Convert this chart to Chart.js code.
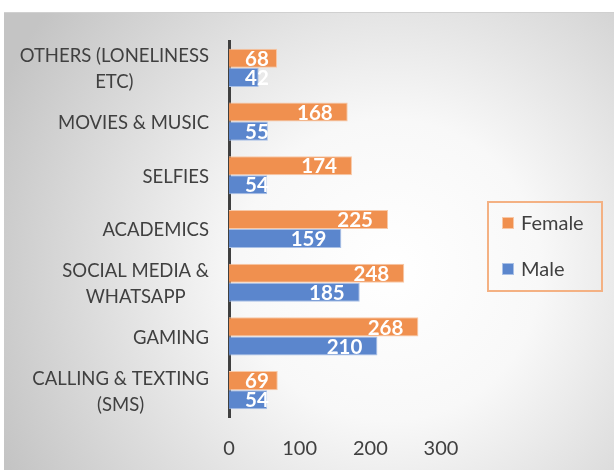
<!DOCTYPE html>
<html><head><meta charset="utf-8">
<script src="https://cdn.jsdelivr.net/npm/chart.js@4/dist/chart.umd.min.js"></script>
<style>html,body{margin:0;padding:0;background:#fff;}#wrap{width:614px;height:473px;position:relative;}</style>
</head><body><div id="wrap"><canvas id="c" width="614" height="473"></canvas></div>
<script>
const categories = [
  ["OTHERS (LONELINESS", "ETC)"],
  "MOVIES & MUSIC",
  "SELFIES",
  "ACADEMICS",
  ["SOCIAL MEDIA &", "WHATSAPP"],
  "GAMING",
  ["CALLING & TEXTING", "(SMS)"]
];
const femaleValues = [68, 168, 174, 225, 248, 268, 69];
const maleValues = [42, 55, 54, 159, 185, 210, 54];
const seriesNames = ["Female", "Male"];
const xTicks = [0, 100, 200, 300];

const FONT = "Lato, 'Open Sans', sans-serif";
const TXT = '#404040';

const bgPlugin = {
  id: 'bg',
  beforeDraw(chart) {
    const ctx = chart.ctx;
    ctx.save();
    ctx.fillStyle = '#ffffff';
    ctx.fillRect(0, 0, chart.width, chart.height);
    const g = ctx.createRadialGradient(390, 270, 0, 390, 270, 430);
    g.addColorStop(0, '#ffffff');
    g.addColorStop(0.35, '#f8f8f8');
    g.addColorStop(1, '#c4c4c4');
    ctx.fillStyle = g;
    ctx.fillRect(4, 12, chart.width - 4, chart.height - 15);
    ctx.strokeStyle = '#d0d0d0';
    ctx.lineWidth = 1;
    ctx.beginPath(); ctx.moveTo(4, 12.5); ctx.lineTo(chart.width, 12.5); ctx.stroke();
    ctx.restore();
  }
};

const catLabelPlugin = {
  id: 'catLabels',
  afterDraw(chart) {
    const ctx = chart.ctx;
    const ys = chart.scales.y;
    const rightEdge = ys.right - 20;
    const lh = 26;
    ctx.save();
    ctx.font = "18.5px " + FONT;
    ctx.fillStyle = TXT;
    ctx.textAlign = 'center';
    ctx.textBaseline = 'middle';
    chart.data.labels.forEach((lab, i) => {
      const lines = Array.isArray(lab) ? lab : [lab];
      const bw = Math.max(...lines.map(l => ctx.measureText(l).width));
      const cx = rightEdge - bw / 2;
      const cy = ys.getPixelForTick(i) + 1.5;
      const y0 = cy - (lines.length - 1) * lh / 2;
      lines.forEach((l, k) => ctx.fillText(l, cx, y0 + k * lh));
    });
    ctx.restore();
  }
};

const labelPlugin = {
  id: 'barLabels',
  afterDatasetsDraw(chart) {
    const ctx = chart.ctx;
    ctx.save();
    ctx.font = "bold 20.5px " + FONT;
    ctx.fillStyle = '#ffffff';
    ctx.textAlign = 'right';
    ctx.textBaseline = 'middle';
    chart.data.datasets.forEach((ds, di) => {
      const meta = chart.getDatasetMeta(di);
      meta.data.forEach((bar, i) => {
        const txt = String(ds.data[i]);
        const w = ctx.measureText(txt).width;
        const right = Math.max(bar.x - 15, bar.base + 16 + w);
        ctx.fillText(txt, right, bar.y + 1);
      });
    });
    ctx.restore();
  }
};

const legendPlugin = {
  id: 'customLegend',
  afterDraw(chart) {
    const ctx = chart.ctx;
    ctx.save();
    ctx.strokeStyle = '#F4B183';
    ctx.lineWidth = 2;
    ctx.strokeRect(488, 202, 114, 89);
    ctx.font = "20px " + FONT;
    ctx.textBaseline = 'middle';
    ctx.textAlign = 'left';
    const ys = [223, 269];
    chart.data.datasets.forEach((ds, i) => {
      ctx.fillStyle = ds.backgroundColor;
      ctx.fillRect(502, ys[i] - 6, 12, 12);
      ctx.strokeStyle = ds.borderColor;
      ctx.lineWidth = 1;
      ctx.strokeRect(502.5, ys[i] - 5.5, 11, 11);
      ctx.fillStyle = TXT;
      ctx.fillText(ds.label, 521, ys[i] + 1);
    });
    ctx.restore();
  }
};

new Chart(document.getElementById('c'), {
  type: 'bar',
  data: {
    labels: categories,
    datasets: [
      { label: seriesNames[0], data: femaleValues, backgroundColor: '#F0904F', borderColor: '#F8C8A6', borderWidth: 1 },
      { label: seriesNames[1], data: maleValues, backgroundColor: '#5B86CD', borderColor: '#A9C0E6', borderWidth: 1 }
    ]
  },
  options: {
    indexAxis: 'y',
    responsive: false,
    animation: false,
    devicePixelRatio: 1,
    layout: { padding: { top: 41, right: 173, left: 0, bottom: 0 } },
    datasets: { bar: { barPercentage: 1.0, categoryPercentage: 0.71 } },
    plugins: { legend: { display: false }, tooltip: { enabled: false } },
    scales: {
      x: {
        min: 0, max: 300,
        afterBuildTicks(scale) { scale.ticks = xTicks.map(v => ({ value: v })); },
        afterFit(scale) { scale.height = 56; },
        grid: { display: false, drawTicks: false },
        border: { display: false },
        ticks: { color: TXT, font: { family: FONT, size: 20 }, padding: 20 }
      },
      y: {
        afterFit(scale) { scale.width = 229; },
        grid: { display: false, drawTicks: false },
        border: { display: true, color: '#404040', width: 3 },
        ticks: { display: false, autoSkip: false }
      }
    }
  },
  plugins: [bgPlugin, labelPlugin, legendPlugin, catLabelPlugin]
});
</script></body></html>
